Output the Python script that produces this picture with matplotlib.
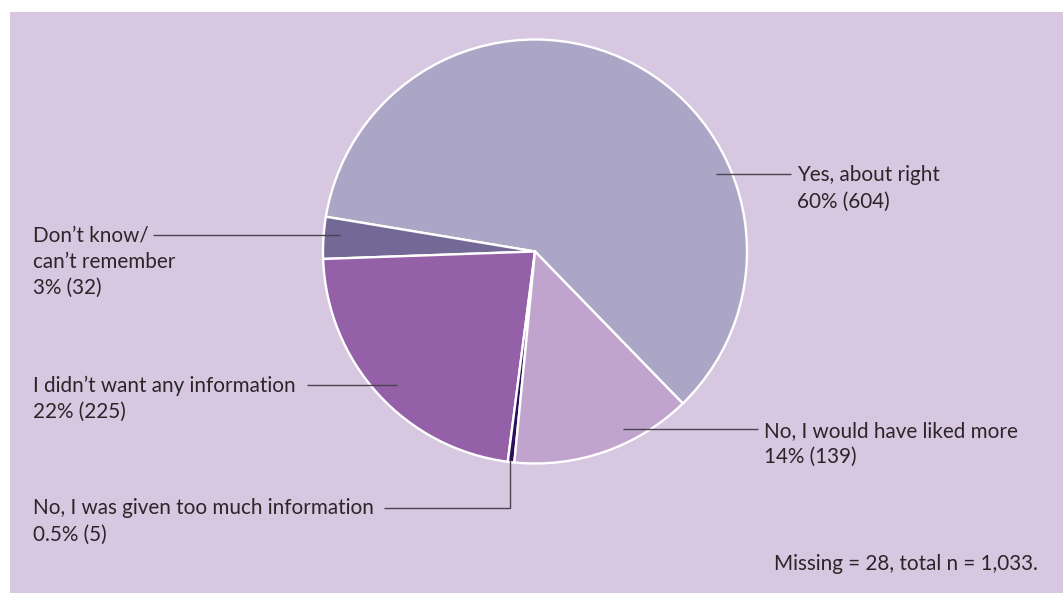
import matplotlib
matplotlib.use("Agg")
import matplotlib.pyplot as plt
from matplotlib.patches import Rectangle

# Survey responses: was the amount of information about right?
categories = [
    "Yes, about right",
    "Don\u2019t know/\ncan\u2019t remember",
    "I didn\u2019t want any information",
    "No, I was given too much information",
    "No, I would have liked more",
]
counts = [604, 32, 225, 5, 139]
percent_labels = ["60%", "3%", "22%", "0.5%", "14%"]
colors = ["#aba6c5", "#736896", "#9460a7", "#2b0f5c", "#c0a4cd"]
footnote = "Missing = 28, total n = 1,033."

W, H = 1063, 593
BG = "#d7c7e1"
TEXT = "#2a2628"
LINE = "#4a4450"
FONT = "Lato"
FS = 14.9

fig = plt.figure(figsize=(W / 100, H / 100), dpi=100)
fig.patch.set_facecolor("white")
ax = fig.add_axes([0, 0, 1, 1])


def Y(py):
    # pixel rows measured from the top
    return H - py


ax.add_patch(Rectangle((10, 0), W - 10, H - 12, facecolor=BG, edgecolor="none", zorder=0))

ax.pie(counts, colors=colors, startangle=-45.8, counterclock=True,
       center=(535, Y(251.5)), radius=212,
       wedgeprops=dict(edgecolor="white", linewidth=1.7), frame=True)
ax.set_xlim(0, W)
ax.set_ylim(0, H)
ax.set_aspect("equal")
ax.axis("off")


def label(x, baselines, lines):
    for b, t in zip(baselines, lines):
        ax.text(x, Y(b), t, ha="left", va="baseline", fontsize=FS,
                family=FONT, color=TEXT, zorder=5)


def leader(xs, ys):
    ax.plot(xs, [Y(v) for v in ys], color=LINE, lw=1.0, zorder=4,
            solid_capstyle="butt")


# Yes, about right
leader([716, 791], [174, 174])
label(797, [181, 208], [categories[0], f"{percent_labels[0]} ({counts[0]})"])

# Don't know / can't remember
leader([153, 340], [235, 235])
label(33, [242, 268, 294], categories[1].split("\n") + [f"{percent_labels[1]} ({counts[1]})"])

# I didn't want any information
leader([307, 397], [385, 385])
label(33, [392, 418], [categories[2], f"{percent_labels[2]} ({counts[2]})"])

# Too much information
leader([384, 510, 510], [508, 508, 460])
label(33, [514, 541], [categories[3], f"{percent_labels[3]} ({counts[3]})"])

# Would have liked more
leader([623, 758], [429, 429])
label(764, [437, 463], [categories[4], f"{percent_labels[4]} ({counts[4]})"])

ax.text(1038, Y(570), footnote, ha="right", va="baseline", fontsize=FS,
        family=FONT, color=TEXT)

fig.savefig("out.png", dpi=100, facecolor=fig.get_facecolor())
